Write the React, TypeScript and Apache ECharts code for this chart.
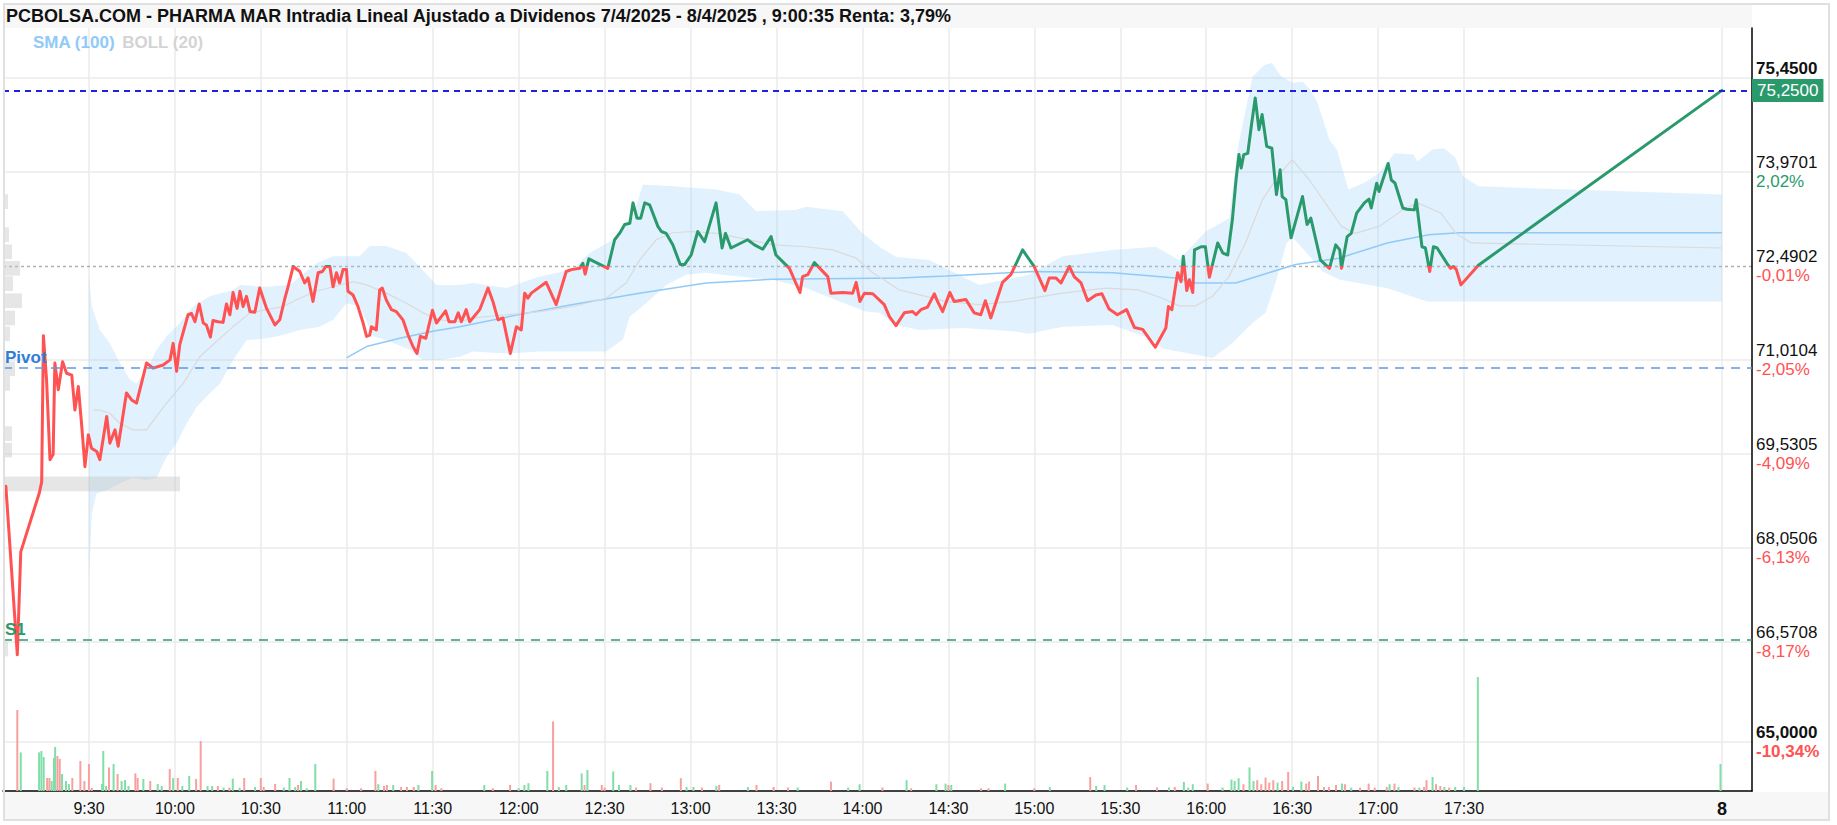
import React, { useEffect, useRef } from 'react';
import * as echarts from 'echarts';

const FONT = '"Liberation Sans", Arial, sans-serif';
const TITLE = 'PCBOLSA.COM - PHARMA MAR Intradia Lineal Ajustado a Dividenos 7/4/2025 - 8/4/2025 , 9:00:35 Renta: 3,79%';

const GREEN = '#2a9a6c';
const RED = '#ff5252';
const VOL_G = '#82dea8';
const VOL_R = '#f7a0a0';

const REF = 72.4902;
const LAST = 75.25;
const LAST_LABEL = '75,2500';
const PIVOT = 70.88;
const S1 = 66.6;

// x = minutes since 9:00 on 7/4/2025; 600 = opening of 8/4/2025
const timeLabels = ['9:30', '10:00', '10:30', '11:00', '11:30', '12:00', '12:30', '13:00', '13:30', '14:00', '14:30', '15:00', '15:30', '16:00', '16:30', '17:00', '17:30'];
const nextDayLabel = '8';
const NEXT_DAY_T = 600;

const gridPrices = [75.45, 73.9701, 72.4902, 71.0104, 69.5305, 68.0506, 66.5708, 65.0];
const gridValueLabels = ['75,4500', '73,9701', '72,4902', '71,0104', '69,5305', '68,0506', '66,5708', '65,0000'];
const gridPctLabels = ['', '2,02%', '-0,01%', '-2,05%', '-4,09%', '-6,13%', '-8,17%', '-10,34%'];

const priceData: [number, number][] = [
  [1, 69.02], [5, 66.37], [6.2, 67.99], [12.7, 68.92], [13.5, 69.09], [14.1, 71.39], [15.2, 70.7], [16.4, 69.44], [17.5, 69.52],
  [18.1, 70.96], [19.3, 70.54], [20.8, 70.98], [22.2, 70.8], [24, 70.77], [25.1, 70.22], [26.3, 70.59], [27.5, 69.96], [28.6, 69.33],
  [29.8, 69.83], [30.9, 69.62], [32.7, 69.57], [33.8, 69.44], [36.2, 70.12], [37.3, 69.7], [39.1, 69.91], [40.2, 69.65], [43.1, 70.49],
  [44.9, 70.38], [46.6, 70.33], [50.1, 70.96], [52.4, 70.88], [55.9, 70.93], [58.3, 71.01], [59.4, 71.27], [60.6, 70.83], [61.7, 71.25],
  [64.6, 71.72], [65.8, 71.74], [67, 71.61], [68.5, 71.89], [69.9, 71.59], [71, 71.56], [72.4, 71.37], [73.3, 71.63], [75.1, 71.61],
  [76.8, 71.6], [78, 71.89], [79.2, 71.72], [80.3, 72.07], [81.7, 71.82], [82.7, 72.09], [83.8, 71.85], [85, 72.01], [86.2, 71.77],
  [87.9, 71.76], [89.6, 72.14], [92, 71.82], [94.9, 71.56], [96.6, 71.64], [98.4, 71.98], [99.5, 72.16], [101.3, 72.48], [103.6, 72.4],
  [105.3, 72.22], [106.5, 72.3], [108.2, 71.93], [110, 72.38], [111.5, 72.4], [112.7, 72.48], [114.1, 72.48], [115.2, 72.16], [116.4, 72.38],
  [117.5, 72.22], [118.7, 72.43], [119.9, 72.43], [120.4, 72.09], [122.2, 72.03], [123.9, 71.85], [125.7, 71.59], [126.9, 71.38], [128, 71.4],
  [128.6, 71.53], [130.3, 71.48], [131.5, 72.11], [132.4, 72.14], [133.8, 71.95], [135.6, 71.8], [137.3, 71.77], [139.6, 71.64], [141.4, 71.4],
  [143.1, 71.22], [144.5, 71.11], [145.7, 71.38], [147.6, 71.35], [149.9, 71.79], [151.3, 71.59], [153, 71.69], [154.5, 71.78], [155.7, 71.61],
  [157.7, 71.61], [158.9, 71.75], [160, 71.61], [161.7, 71.8], [162.9, 71.61], [166.4, 71.8], [169.3, 72.14], [171, 71.93], [172.8, 71.64],
  [174.5, 71.67], [177.1, 71.11], [179.2, 71.53], [180.9, 71.48], [182.1, 72.06], [183.2, 71.98], [184.4, 72.06], [189.6, 72.23], [193.1, 71.88],
  [196.6, 72.4], [198.4, 72.43], [201.3, 72.45], [202.4, 72.53], [203.2, 72.36], [204.5, 72.6], [207.1, 72.54], [211.1, 72.45], [213.5, 72.9],
  [215.2, 73.0], [217, 73.14], [218.8, 73.16], [219.9, 73.48], [221.3, 73.24], [222.6, 73.24], [224, 73.48], [225.7, 73.45], [228.6, 73.11],
  [229.8, 73.03], [231.5, 73.0], [233.8, 72.82], [236.4, 72.51], [237.9, 72.51], [240.2, 72.66], [242.5, 73.03], [244.9, 72.87], [248.9, 73.48],
  [251, 72.77], [252.2, 73.0], [254.1, 72.77], [259.9, 72.9], [262.3, 72.82], [265.2, 72.75], [268.1, 72.95], [269.8, 72.66], [274.5, 72.45],
  [278.2, 72.07], [279.1, 72.32], [280.9, 72.35], [283.2, 72.54], [287.9, 72.32], [289, 72.06], [293.1, 72.07], [296.6, 72.06], [297.8, 72.23],
  [299.1, 71.93], [300.7, 72.06], [303.6, 72.05], [307.6, 71.88], [309.4, 71.69], [311.7, 71.55], [314.6, 71.75], [317.5, 71.77], [318.7, 71.72],
  [320.4, 71.8], [322.7, 71.84], [325.1, 72.05], [326.2, 71.93], [328, 71.77], [330.5, 72.07], [332, 71.93], [336.1, 71.96], [339, 71.75],
  [341.3, 71.72], [342.9, 71.94], [344.8, 71.67], [348.9, 72.23], [351.8, 72.35], [355.9, 72.74], [359.9, 72.48], [363.7, 72.1], [365.2, 72.3],
  [367.5, 72.3], [369.3, 72.22], [372.2, 72.48], [373.9, 72.32], [376.3, 72.22], [378.6, 71.94], [381.5, 72.03], [383.6, 72.05], [386.1, 71.81],
  [389, 71.72], [392.2, 71.8], [394.9, 71.52], [397.8, 71.49], [402.2, 71.21], [405.9, 71.51], [406.8, 71.85], [408, 71.8], [410, 72.38],
  [411.2, 72.24], [412, 72.64], [413.2, 72.1], [414.1, 72.27], [415.3, 72.07], [415.9, 72.74], [418.2, 72.79], [419.7, 72.79], [421.1, 72.31],
  [424, 72.85], [425.8, 72.69], [427.5, 72.66], [429.1, 73.21], [430.4, 73.84], [431.4, 74.24], [432.2, 74.03], [433.1, 74.24], [434.5, 74.26],
  [435.8, 74.71], [437.1, 75.13], [438.4, 74.63], [439.5, 74.87], [441.1, 74.37], [442.9, 74.34], [444.5, 73.61], [445.8, 74.0], [446.5, 73.58],
  [447.8, 73.53], [449.6, 72.93], [453.6, 73.58], [455.2, 73.14], [456.5, 73.24], [459.9, 72.58], [463, 72.45], [465.2, 72.82], [466.6, 72.74],
  [467.2, 72.45], [469.2, 72.95], [470.6, 73.0], [472.5, 73.32], [475.2, 73.48], [476.8, 73.54], [477.6, 73.4], [479.5, 73.79], [480.3, 73.66],
  [483.5, 74.1], [484.6, 73.84], [485.9, 73.79], [488.6, 73.4], [490, 73.38], [492.6, 73.37], [493.3, 73.53], [495.3, 72.79], [496.5, 72.77],
  [498, 72.4], [499.3, 72.79], [500.6, 72.77], [504, 72.53], [505.3, 72.45], [506.3, 72.48], [507.3, 72.43], [508.9, 72.19], [515, 72.5],
  [600, 75.25]
];

const smaData: [number, number][] = [
  [119.9, 71.04], [126.9, 71.22], [138.5, 71.35], [150, 71.46], [159.4, 71.53], [180.9, 71.73], [198.9, 71.88], [222.2, 72.06],
  [245.4, 72.22], [268.7, 72.28], [312.9, 72.3], [329.1, 72.33], [359.4, 72.4], [387.3, 72.38], [409.4, 72.3], [416.4, 72.22],
  [430.3, 72.22], [439.6, 72.35], [451.2, 72.51], [466.3, 72.61], [483.2, 72.85], [497.6, 72.98], [508.2, 73.01], [600, 73.01]
];

const bollUpper: [number, number][] = [
  [30, 72.35], [31, 71.85], [33.8, 71.48], [37.3, 71.27], [40.8, 70.96], [44.3, 70.7], [46.6, 70.64], [50.1, 70.85], [53.6, 71.17],
  [57.1, 71.38], [61.7, 71.59], [66.4, 71.85], [72.2, 72.01], [80.3, 72.11], [82.7, 72.19], [92, 72.16], [100.1, 72.19], [109.4, 72.53],
  [115.2, 72.64], [124.5, 72.64], [128, 72.8], [133.8, 72.8], [140.8, 72.69], [145.4, 72.48], [151.3, 72.19], [159.4, 72.19], [164, 72.22],
  [175.7, 72.14], [187.3, 72.32], [198.9, 72.43], [204.7, 72.69], [212.9, 72.9], [219.9, 73.27], [223.4, 73.77], [233.8, 73.74],
  [248.9, 73.69], [257.1, 73.61], [262.9, 73.35], [276.8, 73.37], [280.3, 73.42], [293.1, 73.35], [300.1, 73.0], [305.9, 72.79],
  [311.7, 72.63], [323.3, 72.58], [340.8, 72.19], [358.2, 72.35], [369.8, 72.64], [387.3, 72.74], [402.4, 72.79], [410.5, 72.58],
  [419.8, 73.03], [428, 73.24], [430.9, 74.32], [436.2, 75.47], [440.3, 75.65], [442.9, 75.68], [446.2, 75.47], [450.3, 75.37],
  [453.6, 75.39], [456.3, 75.26], [458.9, 75.05], [463, 74.47], [465.6, 74.32], [469.6, 73.69], [474.9, 73.79], [480.3, 73.95],
  [485.7, 74.26], [492.3, 74.24], [493.7, 74.13], [499, 74.32], [503, 74.34], [507, 74.19], [509.6, 73.9], [515, 73.74], [600, 73.61]
];

const bollLower: [number, number][] = [
  [30, 67.55], [31, 68.6], [32.7, 68.91], [36.2, 68.96], [40.8, 69.07], [45.4, 69.15], [50.1, 69.12], [53.6, 69.15], [57.1, 69.49],
  [60.6, 69.7], [64.1, 70.01], [67.6, 70.27], [71, 70.43], [75.7, 70.64], [80.3, 71.01], [85, 71.32], [92, 71.35], [97.8, 71.4],
  [103.6, 71.48], [110.6, 71.53], [115.2, 71.64], [119.9, 71.9], [124.5, 71.85], [129.2, 71.38], [135, 71.3], [142, 71.17], [146.6, 71.01],
  [152.4, 71.01], [159.4, 71.06], [164, 71.14], [175.7, 71.11], [187.3, 71.14], [210.5, 71.14], [216.4, 71.33], [218.7, 71.69],
  [224.5, 71.9], [231.5, 72.19], [238.4, 72.35], [245.4, 72.38], [257.1, 72.32], [268.7, 72.27], [280.3, 72.14], [292, 71.93],
  [301.2, 71.77], [306, 71.75], [311.7, 71.56], [319.8, 71.48], [334.9, 71.51], [352.4, 71.46], [358.2, 71.42], [369.8, 71.53],
  [387.3, 71.56], [401.2, 71.33], [404.7, 71.19], [416.4, 71.09], [422.2, 71.04], [429.1, 71.27], [436.1, 71.59], [440.7, 71.75],
  [444.5, 72.27], [448, 72.85], [450.3, 72.93], [456.1, 72.64], [460.7, 72.4], [466.6, 72.27], [483, 72.14], [497, 71.93], [510, 71.93],
  [600, 71.93]
];

const bollMid: [number, number][] = [
  [31.5, 70.22], [33.8, 70.22], [37.3, 70.17], [40.8, 70.01], [45.4, 69.91], [50.1, 69.91], [53.6, 70.12], [57.1, 70.33], [62.9, 70.64],
  [68.7, 71.06], [74.5, 71.3], [80.3, 71.53], [86.2, 71.75], [92, 71.8], [97.8, 71.85], [103.6, 71.98], [109.4, 72.09], [115.2, 72.16],
  [122.2, 72.24], [126.9, 72.19], [133.8, 72.06], [140.8, 71.9], [146.6, 71.75], [152.4, 71.64], [159.4, 71.61], [164, 71.67],
  [175.7, 71.72], [187.3, 71.77], [198.9, 71.85], [210.5, 71.98], [217.5, 72.22], [222.2, 72.58], [228, 72.9], [233.8, 73.01],
  [240.8, 73.03], [248.9, 73.0], [257.1, 72.93], [268.7, 72.82], [280.3, 72.79], [289.6, 72.74], [297.8, 72.61], [303.6, 72.38],
  [312.9, 72.11], [317.5, 72.06], [329.1, 71.93], [340.8, 71.88], [352.4, 71.93], [369.8, 72.06], [384.9, 72.14], [396.5, 72.11],
  [404.7, 71.98], [410.5, 71.86], [416.4, 71.86], [422.2, 72.01], [427.9, 72.32], [433.7, 72.85], [439.6, 73.53], [445.4, 73.92],
  [450, 74.16], [456, 73.84], [467.2, 73.11], [472, 73.0], [480.3, 73.11], [488.6, 73.37], [493.8, 73.48], [501.9, 73.32], [507.2, 73.0],
  [512.5, 72.85], [600, 72.77]
];

const volTime = [
  5, 6.2, 12.6, 13.4, 14.2, 15.4, 16.2, 17, 17.8, 18.2, 19, 19.8, 20.6, 22, 23, 24.2, 27, 28.4, 30, 31, 34.6, 35, 36, 37, 38.6, 40, 41.4,
  42.6, 43.8, 46.2, 47, 49, 51.4, 54, 55.4, 58.2, 59.4, 61, 62.6, 65, 67.4, 69, 71.4, 73, 75, 77, 79, 80.2, 82.6, 84.2, 88, 90, 91, 95, 98,
  100, 102, 103, 104, 106, 109, 115.4, 120, 125, 130, 131, 133, 134, 136.2, 139, 141, 143.4, 145, 149.8, 151, 153, 168, 171, 177, 180,
  182, 183.4, 190, 192, 194, 196.6, 202, 203, 204, 209, 210, 213, 215, 219, 221, 226, 230, 236.6, 238.6, 241, 244, 249, 250, 260, 263,
  269, 274, 277.4, 289, 295, 299, 307, 315.4, 317, 325.8, 329, 330, 331, 341.4, 344, 349.8, 360, 365.4, 379.5, 381.6, 384.5, 392.4,
  395.5, 402.8, 407, 409, 412.2, 413.7, 415.3, 420.5, 425.7, 428.8, 429.9, 431.3, 433, 435.1, 436.5, 437.8, 439.2, 440.7, 442, 443.4,
  444.9, 446.5, 448.6, 450.3, 453.2, 454.9, 455.9, 459, 461.1, 462.8, 465.3, 467.4, 468.4, 470.6, 473.7, 476.7, 478.8, 483, 484, 485.7,
  487.1, 492.7, 494.4, 496, 496.9, 499, 500.2, 501.7, 503.1, 504.8, 506.9, 510, 514.8, 599.5
];
const volAmount = [
  405, 193, 193, 200, 170, 65, 65, 50, 165, 220, 175, 160, 85, 50, 35, 65, 150, 50, 135, 15, 35, 200, 25, 118, 135, 85, 50,
  55, 25, 88, 65, 60, 50, 35, 25, 110, 65, 65, 25, 75, 60, 250, 25, 25, 25, 17, 17, 62, 17, 65, 20, 65, 20, 35, 17,
  65, 20, 30, 50, 14, 135, 62, 14, 14, 100, 34, 25, 30, 30, 20, 20, 20, 30, 100, 30, 14, 30, 14, 30, 14,
  30, 39, 100, 348, 20, 30, 88, 30, 105, 30, 17, 98, 30, 30, 17, 39, 17, 64, 20, 20, 17, 25, 30, 20, 30,
  20, 17, 17, 47, 17, 34, 17, 54, 14, 34, 37, 30, 30, 14, 14, 37, 14, 20, 70, 25, 30, 17,
  30, 17, 17, 20, 45, 17, 34, 37, 17, 57, 50, 64, 34, 118, 50, 54, 34, 67, 42, 54,
  42, 50, 95, 20, 47, 37, 47, 75, 20, 20, 30, 37, 34, 17, 17, 37, 17, 20, 34, 37,
  20, 17, 17, 20, 54, 70, 34, 25, 20, 17, 20, 20, 570, 135
];
const volUp = [
  0, 1, 1, 1, 1, 0, 0, 1, 1, 1, 0, 0, 1, 1, 1, 0, 0, 0, 0, 0, 1, 1, 1, 0, 1, 0, 1,
  1, 1, 0, 0, 1, 0, 1, 1, 0, 1, 0, 1, 1, 0, 0, 1, 1, 0, 1, 0, 1, 1, 0, 1, 0, 0, 0, 1,
  1, 1, 0, 1, 1, 1, 0, 0, 0, 0, 1, 0, 0, 1, 0, 0, 0, 1, 1, 0, 0, 1, 0, 0, 1,
  1, 1, 1, 0, 1, 1, 1, 0, 1, 0, 0, 1, 1, 1, 0, 0, 0, 0, 1, 1, 0, 1, 0, 1, 0,
  0, 0, 1, 0, 1, 1, 0, 1, 0, 1, 1, 0, 1, 0, 0, 1, 0, 1, 0, 1, 1, 1,
  0, 0, 1, 0, 1, 1, 1, 0, 1, 1, 1, 1, 0, 1, 1, 0, 0, 0, 0, 0,
  1, 0, 0, 1, 1, 0, 0, 0, 0, 0, 0, 1, 0, 1, 0, 0, 0, 0, 1, 0,
  1, 0, 1, 0, 0, 1, 0, 0, 1, 0, 1, 1, 1, 1
];

// volume-at-price profile on the left
const profPrice = [73.5, 72.98, 72.71, 72.45, 72.21, 71.94, 71.67, 71.42, 70.87, 70.64, 69.85, 69.59, 69.06, 66.46];
const profVolume = [3, 4, 7, 15, 8, 17, 10, 5, 10, 5, 7, 7, 175, 3];
const PROFILE_BIN = 0.23;
const PROFILE_MAX = 1749;

const X_MAX = 610.5;
const Y_MIN = 64.2271;
const Y_MAX = 76.2315;
const VOL_MAX = 3815;

export default function App() {
  const ref = useRef<HTMLDivElement>(null);

  useEffect(() => {
    document.body.style.margin = '0';
    if (!ref.current) return;
    const chart = echarts.init(ref.current, undefined, { renderer: 'svg' });

    const tickCount = Math.floor(NEXT_DAY_T / 30) + 2;
    const splitColors: string[] = [];
    for (let i = 0; i < tickCount; i++) {
      const v = i * 30;
      const show = (v >= 30 && v <= 510) || v === NEXT_DAY_T;
      splitColors.push(show ? '#ebebeb' : 'rgba(0,0,0,0)');
    }

    const rich = {
      v: { fontSize: 17, color: '#111', lineHeight: 19, fontFamily: FONT },
      vb: { fontSize: 17, color: '#111', lineHeight: 19, fontFamily: FONT, fontWeight: 'bold' },
      pg: { fontSize: 17, color: GREEN, lineHeight: 19, fontFamily: FONT },
      pr: { fontSize: 17, color: RED, lineHeight: 19, fontFamily: FONT },
      prb: { fontSize: 17, color: RED, lineHeight: 19, fontFamily: FONT, fontWeight: 'bold' },
    };

    const gridLineData = gridPrices.map((p, i) => {
      const bold = i === 0 || i === gridPrices.length - 1;
      const pct = gridPctLabels[i];
      const neg = pct.startsWith('-');
      const isRef = p === REF;
      const vTag = bold ? 'vb' : 'v';
      const pTag = neg ? (bold ? 'prb' : 'pr') : 'pg';
      const text = pct ? `{${vTag}|${gridValueLabels[i]}}\n{${pTag}|${pct}}` : `{${vTag}|${gridValueLabels[i]}}`;
      return {
        yAxis: p,
        lineStyle: isRef
          ? { color: '#b0b0b0', type: [3, 3], width: 1.4 }
          : { color: '#ebebeb', type: 'solid', width: 1.5 },
        label: { formatter: text, padding: pct ? 0 : [0, 0, 19, 0] },
      };
    });

    const option: any = {
      animation: false,
      backgroundColor: '#ffffff',
      textStyle: { fontFamily: FONT },
      title: {
        text: TITLE,
        left: 6,
        top: 7,
        padding: 0,
        textStyle: { fontSize: 18, fontWeight: 'bold', color: '#111', fontFamily: FONT },
      },
      legend: {
        left: 28,
        top: 34,
        padding: 0,
        icon: 'none',
        itemWidth: 0,
        itemGap: 2,
        selectedMode: false,
        data: [
          { name: 'SMA (100)', textStyle: { color: '#90caf9' } },
          { name: 'BOLL (20)', textStyle: { color: '#d4d4d4' } },
        ],
        textStyle: { fontSize: 17, fontWeight: 'bold', fontFamily: FONT },
      },
      grid: { left: 3, right: 85, top: 28, bottom: 34, containLabel: false },
      graphic: [
        { type: 'rect', z: -10, silent: true, shape: { x: 5, y: 5, width: 1747, height: 23 }, style: { fill: '#f7f7f7' } },
        { type: 'rect', z: -10, silent: true, shape: { x: 5, y: 792, width: 1823, height: 27 }, style: { fill: '#f7f7f7' } },
        { type: 'rect', z: 100, silent: true, shape: { x: 4, y: 4, width: 1825, height: 816 }, style: { fill: 'none', stroke: '#e0e0e0', lineWidth: 2 } },
      ],
      visualMap: {
        type: 'piecewise',
        show: false,
        seriesIndex: 5,
        dimension: 1,
        pieces: [
          { gt: REF, lte: 200, color: GREEN },
          { gte: 0, lte: REF, color: RED },
        ],
        outOfRange: { color: RED },
      },
      xAxis: [
        {
          type: 'value',
          min: 0,
          max: X_MAX,
          interval: 30,
          position: 'bottom',
          axisLine: { onZero: false, lineStyle: { color: '#000', width: 1.5 } },
          axisTick: { show: false },
          axisLabel: {
            fontSize: 16,
            color: '#111',
            fontFamily: FONT,
            margin: 9,
            formatter: (v: number) => {
              if (v === NEXT_DAY_T) return `{b|${nextDayLabel}}`;
              const idx = Math.round(v / 30) - 1;
              if (v % 30 === 0 && idx >= 0 && idx < timeLabels.length) return timeLabels[idx];
              return '';
            },
            rich: { b: { fontSize: 18, fontWeight: 'bold', color: '#111', fontFamily: FONT } },
          },
          splitLine: { show: true, lineStyle: { color: splitColors, width: 1.5 } },
        },
        { type: 'value', min: 0, max: PROFILE_MAX, show: false, splitLine: { show: false } },
      ],
      yAxis: [
        {
          type: 'value',
          position: 'right',
          min: Y_MIN,
          max: Y_MAX,
          axisLine: { show: true, onZero: false, lineStyle: { color: '#000', width: 1.5 } },
          axisTick: { show: false },
          axisLabel: { show: false },
          splitLine: { show: false },
        },
        { type: 'value', min: 0, max: VOL_MAX, show: false, splitLine: { show: false } },
      ],
      series: [
        {
          // 0: horizontal grid lines with right-hand price / % labels
          type: 'line',
          name: 'grid',
          data: [[0, REF]],
          symbol: 'none',
          lineStyle: { opacity: 0 },
          silent: true,
          z: 0,
          markLine: {
            z: 0,
            silent: true,
            symbol: ['none', 'none'],
            animation: false,
            label: { show: true, position: 'end', distance: 4, rich },
            data: gridLineData,
          },
        },
        {
          // 1: Bollinger band fill
          type: 'custom',
          name: 'band',
          silent: true,
          z: 1,
          data: [[0, REF]],
          renderItem: (_params: any, api: any) => {
            const up = bollUpper.map((d) => api.coord(d));
            const lo = bollLower.map((d) => api.coord(d)).reverse();
            return {
              type: 'polygon',
              shape: { points: up.concat(lo) },
              style: { fill: 'rgba(144,202,249,0.27)' },
            };
          },
        },
        {
          // 2: volume profile
          type: 'custom',
          name: 'profile',
          silent: true,
          xAxisIndex: 1,
          yAxisIndex: 0,
          z: 2,
          data: profPrice.map((p, i) => [profVolume[i], p]),
          renderItem: (_params: any, api: any) => {
            const v = api.value(0);
            const p = api.value(1);
            const a = api.coord([0, p]);
            const b = api.coord([v, p]);
            const h = api.size([0, PROFILE_BIN])[1];
            return {
              type: 'rect',
              shape: { x: a[0] + 2, y: a[1] - h / 2, width: b[0] - a[0], height: h },
              style: { fill: 'rgba(195,195,195,0.42)' },
            };
          },
        },
        {
          // 3
          type: 'line',
          name: 'SMA (100)',
          data: smaData,
          symbol: 'none',
          silent: true,
          z: 3,
          color: '#90caf9',
          lineStyle: { color: '#90caf9', width: 1.5 },
        },
        {
          // 4
          type: 'line',
          name: 'BOLL (20)',
          data: bollMid,
          symbol: 'none',
          silent: true,
          z: 3,
          color: '#d4d4d4',
          lineStyle: { color: '#dadada', width: 1.2 },
        },
        {
          // 5: price
          type: 'line',
          name: 'PHARMA MAR',
          data: priceData,
          symbol: 'none',
          silent: true,
          z: 6,
          lineStyle: { width: 3, join: 'round', cap: 'round' },
        },
        {
          // 6: volume
          type: 'bar',
          name: 'Volumen',
          xAxisIndex: 0,
          yAxisIndex: 1,
          barWidth: 2,
          silent: true,
          z: 2,
          data: volTime.map((t, i) => ({
            value: [t, volAmount[i]],
            itemStyle: { color: volUp[i] ? VOL_G : VOL_R },
          })),
        },
        {
          // 7: reference lines (drawn over the price so their labels stay readable)
          type: 'line',
          name: 'refs',
          data: [[0, REF]],
          symbol: 'none',
          lineStyle: { opacity: 0 },
          silent: true,
          z: 7,
          markLine: {
            z: 8,
            silent: true,
            symbol: ['none', 'none'],
            animation: false,
            data: [
              {
                yAxis: PIVOT,
                lineStyle: { color: '#5a9be6', type: [9, 7], width: 1.6 },
                label: {
                  show: true, position: 'insideStartTop', distance: 2, formatter: 'Pivot',
                  color: '#2f7ed8', fontSize: 17, fontWeight: 'bold', fontFamily: FONT,
                },
              },
              {
                yAxis: S1,
                lineStyle: { color: GREEN, type: [9, 7], width: 1.6 },
                label: {
                  show: true, position: 'insideStartTop', distance: 2, formatter: 'S1',
                  color: GREEN, fontSize: 17, fontWeight: 'bold', fontFamily: FONT,
                },
              },
              {
                yAxis: LAST,
                lineStyle: { color: '#1f1fe6', type: [6, 5], width: 1.8 },
                label: {
                  show: true, position: 'end', distance: 0, formatter: LAST_LABEL,
                  color: '#fff', backgroundColor: GREEN, padding: [4, 5, 2, 5], fontSize: 17, fontFamily: FONT,
                },
              },
            ],
          },
        },
      ],
    };

    chart.setOption(option);
    return () => chart.dispose();
  }, []);

  return <div ref={ref} style={{ width: 1837, height: 825 }} />;
}
